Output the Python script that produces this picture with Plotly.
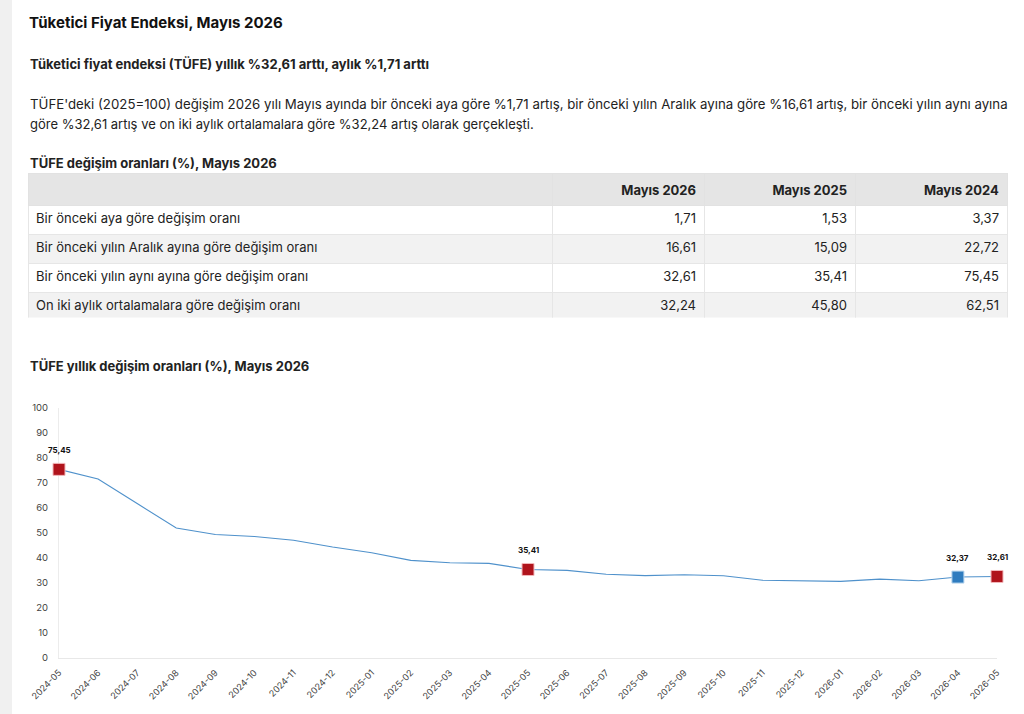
import plotly.graph_objects as go

W, H = 1024, 714

# ---------------- data ----------------
months = ["2024-05", "2024-06", "2024-07", "2024-08", "2024-09", "2024-10", "2024-11", "2024-12",
          "2025-01", "2025-02", "2025-03", "2025-04", "2025-05", "2025-06", "2025-07", "2025-08",
          "2025-09", "2025-10", "2025-11", "2025-12", "2026-01", "2026-02", "2026-03", "2026-04",
          "2026-05"]
annual_cpi = [75.45, 71.60, 61.78, 51.97, 49.38, 48.58, 47.09, 44.38,
              42.12, 39.05, 38.10, 37.86, 35.41, 35.05, 33.52, 32.95,
              33.29, 32.87, 31.07, 30.89, 30.65, 31.53, 30.87, 32.37,
              32.61]
red_points = ["2024-05", "2025-05", "2026-05"]
blue_points = ["2026-04"]

table_rows = ["Bir önceki aya göre değişim oranı",
              "Bir önceki yılın Aralık ayına göre değişim oranı",
              "Bir önceki yılın aynı ayına göre değişim oranı",
              "On iki aylık ortalamalara göre değişim oranı"]
table_headers = ["", "Mayıs 2026", "Mayıs 2025", "Mayıs 2024"]
col_2026 = [1.71, 16.61, 32.61, 32.24]
col_2025 = [1.53, 15.09, 35.41, 45.80]
col_2024 = [3.37, 22.72, 75.45, 62.51]

title = "Tüketici Fiyat Endeksi, Mayıs 2026"
subtitle = "Tüketici fiyat endeksi (TÜFE) yıllık %32,61 arttı, aylık %1,71 arttı"
para_lines = ["TÜFE'deki (2025=100) değişim 2026 yılı Mayıs ayında bir önceki aya göre %1,71 artış, bir önceki yılın Aralık ayına göre %16,61 artış, bir önceki yılın aynı ayına",
              "göre %32,61 artış ve on iki aylık ortalamalara göre %32,24 artış olarak gerçekleşti."]
table_title = "TÜFE değişim oranları (%), Mayıs 2026"
chart_title = "TÜFE yıllık değişim oranları (%), Mayıs 2026"


def tr(v):
    return f"{v:.2f}".replace(".", ",")


def px_y(py):
    return 1 - py / H


def px_x(px):
    return px / W


FONT = "Inter, Noto Sans, sans-serif"
TXT = "#222222"
RED = "#b0141c"
BLUE = "#2f7cbf"

fig = go.Figure()

# ---------------- table ----------------
fig.add_trace(go.Table(
    domain=dict(x=[px_x(28), px_x(1007)], y=[px_y(318.5), px_y(173.5)]),
    columnwidth=[524, 152, 151, 152],
    header=dict(
        values=[f"<b>{h}</b>" if h else "" for h in table_headers],
        align=["left", "right", "right", "right"],
        fill_color="#e5e5e5",
        line=dict(color="#e2e2e2", width=1),
        font=dict(family=FONT, size=13, color=TXT),
        height=28,
    ),
    cells=dict(
        values=[table_rows, [tr(v) for v in col_2026], [tr(v) for v in col_2025], [tr(v) for v in col_2024]],
        align=["left", "right", "right", "right"],
        fill_color=[["#ffffff", "#f2f2f2", "#ffffff", "#f2f2f2"]] * 4,
        line=dict(color="#e6e6e6", width=1),
        font=dict(family=FONT, size=13, color=TXT),
        height=29,
    ),
))

# ---------------- line chart ----------------
fig.add_trace(go.Scatter(
    x=months, y=annual_cpi, mode="lines",
    line=dict(color="#4f91cb", width=1.1),
    hoverinfo="x+y", showlegend=False, cliponaxis=False,
))

red_y = [annual_cpi[months.index(m)] for m in red_points]
blue_y = [annual_cpi[months.index(m)] for m in blue_points]
fig.add_trace(go.Scatter(
    x=red_points, y=red_y, mode="markers",
    marker=dict(symbol="square", size=12, color=RED, line=dict(color="#f2b8bb", width=1)),
    showlegend=False, cliponaxis=False,
))
fig.add_trace(go.Scatter(
    x=blue_points, y=blue_y, mode="markers",
    marker=dict(symbol="square", size=12, color=BLUE, line=dict(color="#b9d6ee", width=1)),
    showlegend=False, cliponaxis=False,
))

annotations = []
for m, v in list(zip(red_points, red_y)) + list(zip(blue_points, blue_y)):
    annotations.append(dict(
        x=m, y=v, xref="x", yref="y", text=f"<b>{tr(v)}</b>", showarrow=False,
        yshift=19, font=dict(family=FONT, size=8, color="#111111"),
        xanchor="center", yanchor="middle",
    ))


def add_text(text, px, py, size, weight=400, color=TXT, anchor="left"):
    annotations.append(dict(
        x=px_x(px), y=px_y(py), xref="paper", yref="paper", text=text, showarrow=False,
        xanchor=anchor, yanchor="middle", align=anchor,
        font=dict(family=FONT, size=size, color=color, weight=weight),
    ))


add_text(f"<b>{title}</b>", 27, 22, 15, 700, "#111111")
add_text(subtitle, 28, 64, 13, 700)
add_text(para_lines[0], 28, 104, 13.26, 400)
add_text(para_lines[1], 28, 124, 13, 400)
add_text(table_title, 28, 163, 13, 700)
add_text(chart_title, 28, 366, 13, 700)

fig.update_layout(
    width=W, height=H,
    margin=dict(l=0, r=0, t=0, b=0, autoexpand=False),
    paper_bgcolor="white", plot_bgcolor="white",
    font=dict(family=FONT, color=TXT),
    annotations=annotations,
    shapes=[dict(type="rect", xref="paper", yref="paper", x0=0, x1=px_x(12), y0=0, y1=1,
                 fillcolor="#f0f0f0", line=dict(width=0), layer="below")],
    xaxis=dict(
        domain=[px_x(59), px_x(997)],
        type="category", range=[0, len(months) - 1],
        tickangle=-45, tickfont=dict(family=FONT, size=9, color="#444444"),
        showgrid=False, zeroline=False, automargin=False,
        showline=True, linecolor="#e8e8e8", linewidth=1, layer="below traces",
        ticks="", ticklabelstandoff=5, fixedrange=True,
    ),
    yaxis=dict(
        domain=[px_y(658), px_y(408)],
        range=[0, 100], dtick=10,
        tickfont=dict(family=FONT, size=9.5, color="#444444"),
        showgrid=False, zeroline=False, automargin=False,
        showline=True, linecolor="#ececec", linewidth=1, layer="below traces",
        ticks="", ticklabelstandoff=8, fixedrange=True,
    ),
)

fig.write_html("out.html")
